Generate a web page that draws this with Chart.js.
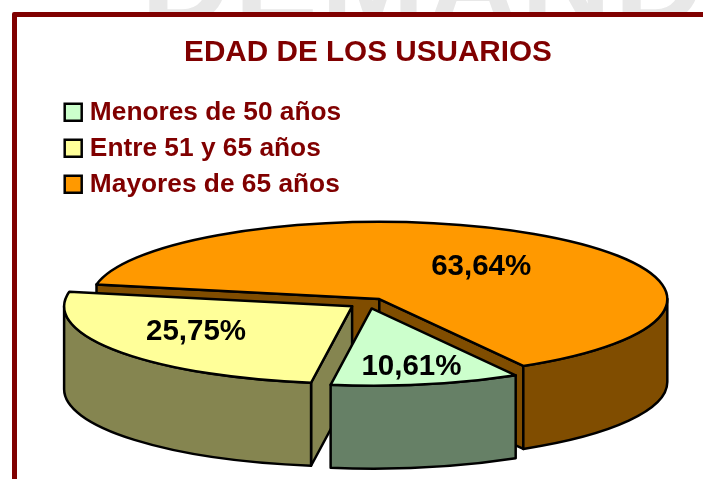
<!DOCTYPE html>
<html>
<head>
<meta charset="utf-8">
<title>Edad de los usuarios</title>
<script src="https://cdn.jsdelivr.net/npm/chart.js@4/dist/chart.umd.js"></script>
<style>
  html, body { margin: 0; padding: 0; background: #fff; overflow: hidden; }
  #page { position: relative; width: 703px; height: 479px; overflow: hidden; }
  #mark { position: absolute; left: 141px; top: -83px; font: bold 125px/125px "Liberation Sans", Arial, sans-serif;
          color: #e8e8e8; white-space: nowrap; letter-spacing: 3px; }
  #frame { position: absolute; left: 12px; top: 12px; width: 800px; height: 600px; background: #fff;
           border: 5px solid #800000; border-radius: 2px; }
  canvas { position: absolute; left: 0; top: 0; }
</style>
</head>
<body>
<div id="page">
  <div id="mark">DEMANDA</div>
  <div id="frame"></div>
  <canvas id="myChart" width="703" height="479"></canvas>
</div>
<script>
const categories = ['Menores de 50 años', 'Entre 51 y 65 años', 'Mayores de 65 años'];
const percentages = [10.61, 25.75, 63.64];
const topColors = ['#CCFFCC', '#FFFF99', '#FF9900'];
const wallColors = ['#668066', '#858550', '#804D00'];
const chartTitle = 'EDAD DE LOS USUARIOS';

const TILT = 0.268;
const DEPTH = 83;
const LINE = '#000';

// looks like an old 3D pie from powerpoint: flat arc squashed by TILT, extruded by DEPTH
class Arc3d extends Chart.ArcElement {
  center() {
    const mid = (this.startAngle + this.endAngle) / 2;
    const off = this.options.offset || 0;
    return { x: this.x + Math.cos(mid) * off, y: this.y + Math.sin(mid) * off * TILT };
  }
  edgePoint(angle) {
    const c = this.center();
    return { x: c.x + Math.cos(angle) * this.outerRadius, y: c.y + Math.sin(angle) * this.outerRadius * TILT };
  }
  paint(ctx, fill) {
    ctx.fillStyle = fill;
    ctx.strokeStyle = LINE;
    ctx.lineWidth = this.options.borderWidth;
    ctx.lineJoin = 'round';
    ctx.fill();
    ctx.stroke();
  }
  cutFace(ctx, angle, fill) {
    const c = this.center();
    const p = this.edgePoint(angle);
    ctx.beginPath();
    ctx.moveTo(c.x, c.y);
    ctx.lineTo(p.x, p.y);
    ctx.lineTo(p.x, p.y + DEPTH);
    ctx.lineTo(c.x, c.y + DEPTH);
    ctx.closePath();
    this.paint(ctx, fill);
  }
  draw(ctx) {
    const { startAngle, endAngle, outerRadius } = this;
    const c = this.center();
    const wall = wallColors[this.$context.dataIndex];
    ctx.save();

    // cut faces, only the ones turned to the viewer
    if (Math.sin(startAngle - Math.PI / 2) > 0) this.cutFace(ctx, startAngle, wall);
    if (Math.sin(endAngle + Math.PI / 2) > 0) this.cutFace(ctx, endAngle, wall);

    // outer wall, front half of the ellipse
    const turns = Math.floor(startAngle / (2 * Math.PI));
    for (let k = turns; k <= turns + 1; k++) {
      const a0 = Math.max(startAngle, k * 2 * Math.PI);
      const a1 = Math.min(endAngle, k * 2 * Math.PI + Math.PI);
      if (a1 > a0) {
        ctx.beginPath();
        ctx.ellipse(c.x, c.y, outerRadius, outerRadius * TILT, 0, a0, a1);
        ctx.ellipse(c.x, c.y + DEPTH, outerRadius, outerRadius * TILT, 0, a1, a0, true);
        ctx.closePath();
        this.paint(ctx, wall);
      }
    }

    // top face
    ctx.beginPath();
    ctx.moveTo(c.x, c.y);
    ctx.ellipse(c.x, c.y, outerRadius, outerRadius * TILT, 0, startAngle, endAngle);
    ctx.closePath();
    this.paint(ctx, this.options.backgroundColor);
    ctx.restore();
  }
}
Arc3d.id = 'arc3d';
Arc3d.defaults = Chart.ArcElement.defaults;

class Pie3dController extends Chart.PieController {
  draw() {
    // back to front: orange, yellow, green
    const arcs = this.getMeta().data;
    [2, 1, 0].forEach((i) => arcs[i].draw(this.chart.ctx));
  }
}
Pie3dController.id = 'pie3d';
Pie3dController.defaults = { ...Chart.PieController.defaults, dataElementType: 'arc3d' };
Pie3dController.overrides = Chart.PieController.overrides;

const valueLabels = {
  id: 'valueLabels',
  afterLayout(chart, args, opts) {
    // legend in chartArea mode resets its top to 0
    chart.legend.top = opts.legendTop;
  },
  afterDatasetsDraw(chart, args, opts) {
    const ctx = chart.ctx;
    const arcs = chart.getDatasetMeta(0).data;
    ctx.save();
    ctx.font = 'bold 29.5px "Liberation Sans", Arial, sans-serif';
    ctx.fillStyle = '#000';
    ctx.textAlign = 'center';
    ctx.textBaseline = 'middle';
    arcs.forEach((arc, i) => {
      const c = arc.center();
      const a = (arc.startAngle + arc.endAngle) / 2 + opts.shift[i] * Math.PI / 180;
      const x = c.x + Math.cos(a) * opts.radius[i];
      const y = c.y + Math.sin(a) * opts.radius[i] * TILT;
      ctx.fillText(percentages[i].toFixed(2).replace('.', ',') + '%', x, y);
    });
    ctx.restore();
  }
};

Chart.register(Arc3d, Pie3dController);

window.chart = new Chart(document.getElementById('myChart'), {
  type: 'pie3d',
  plugins: [valueLabels],
  data: {
    labels: categories,
    datasets: [{
      data: percentages,
      backgroundColor: topColors,
      borderColor: LINE,
      borderWidth: 2.5,
      offset: 19.5
    }]
  },
  options: {
    responsive: false,
    animation: false,
    rotation: 150,
    radius: 288,
    layout: { padding: { left: 60, right: 27, top: 0, bottom: 0 } },
    plugins: {
      title: {
        display: true,
        text: chartTitle,
        color: '#800000',
        font: { family: '"Liberation Sans", Arial, sans-serif', size: 29.7, weight: 'bold' },
        padding: { top: 35, bottom: 57 }
      },
      legend: {
        position: 'chartArea',
        align: 'start',
        labels: {
          color: '#800000',
          font: { family: '"Liberation Sans", Arial, sans-serif', size: 26.3, weight: 'bold' },
          usePointStyle: true,
          pointStyle: 'rect',
          boxWidth: 7,
          boxHeight: 17,
          padding: 9.7
        }
      },
      tooltip: { enabled: false },
      valueLabels: { legendTop: 89.5, radius: [220, 182, 157], shift: [0.5, 4.5, 5] }
    }
  }
});
</script>
</body>
</html>
